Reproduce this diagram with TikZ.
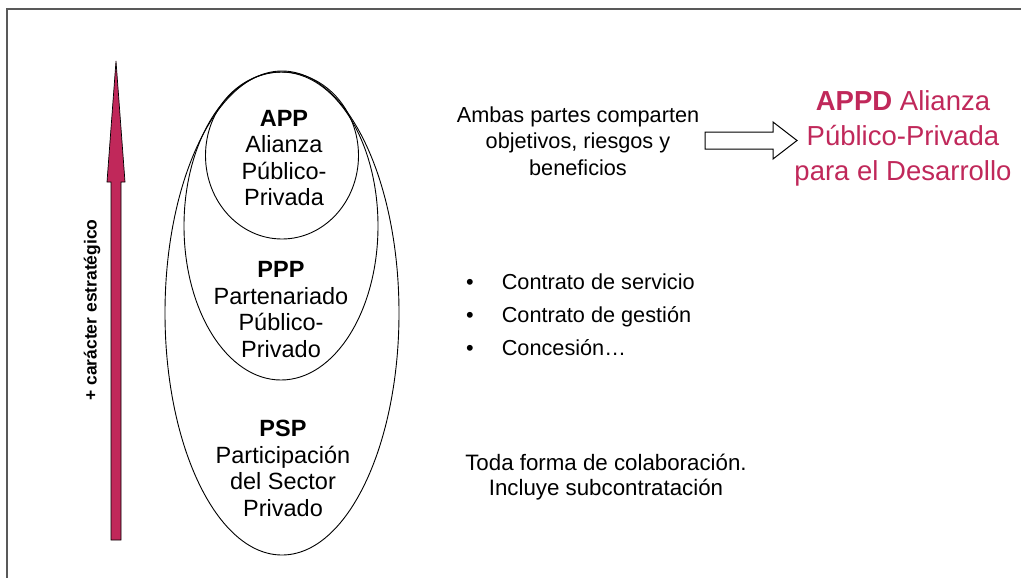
\documentclass[tikz,border=0pt]{standalone}
\usepackage{fontspec}
\setmainfont{Liberation Sans}
\usepackage{xcolor}
\usetikzlibrary{shapes,arrows,positioning}
\definecolor{appdred}{RGB}{192,40,90}

\begin{document}
\begin{tikzpicture}[
    x=1pt, y=-1pt,
    ring/.style={ellipse, draw=black, line width=0.9pt, inner sep=0pt},
    label/.style={align=center, inner sep=0pt, font=\fontsize{23.5}{26.5}\selectfont},
    side/.style={align=center, inner sep=0pt, font=\fontsize{21.7}{26.5}\selectfont},
    bigarrow/.style={draw=black, line width=0.7pt, fill=appdred},
    hollow/.style={draw=black, line width=1pt, fill=white}
]
\useasboundingbox (0,0) rectangle (1021,578);

% Frame
\draw [gray!70!black, line width=1.5pt] (7,9) rectangle (1060,620);

% Nested ellipses
\node [ring, minimum width=234, minimum height=484] (psp) at (282,313) {};
\node [ring, minimum width=194, minimum height=308] (ppp) at (281,226) {};
\node [ring, minimum width=153, minimum height=167] (app) at (282,155.5) {};

% Labels inside
\node [label] (applabel) at (284,158) {\textbf{APP}\\Alianza\\Público-\\Privada};
\node [label] (ppplabel) at (281,309.5) {\textbf{PPP}\\Partenariado\\Público-\\Privado};
\node [label] (psplabel) at (283,468.5) {\textbf{PSP}\\Participación\\del Sector\\Privado};

% Strategic arrow
\draw [bigarrow] (111,540) -- (111,182) -- (107,182) -- (116,61) -- (125,182) -- (121,182) -- (121,540) -- cycle;
\node [rotate=90, font=\bfseries\fontsize{17.5}{19}\selectfont, inner sep=0pt] (axis) at (92,310) {+ carácter estratégico};

% Right column
\node [side] (shared) at (578,141) {Ambas partes comparten\\objetivos, riesgos y\\beneficios};
\draw [hollow] (705,132) -- (773,132) -- (773,122) -- (797,140.5) -- (773,159) -- (773,149) -- (705,149) -- cycle;
\node [align=center, inner sep=0pt, text=appdred, font=\fontsize{27.5}{35}\selectfont] (appd) at (903,138) {\textbf{APPD} Alianza\\Público-Privada\\para el Desarrollo};

\node [align=left, anchor=west, inner sep=0pt, font=\fontsize{21.7}{33}\selectfont] (contracts) at (466,315)
    {•\hspace{28pt}Contrato de servicio\\•\hspace{28pt}Contrato de gestión\\•\hspace{28pt}Concesión…};

\node [side, font=\fontsize{22.3}{25}\selectfont] (any) at (606,477) {Toda forma de colaboración.\\Incluye subcontratación};

\end{tikzpicture}
\end{document}
